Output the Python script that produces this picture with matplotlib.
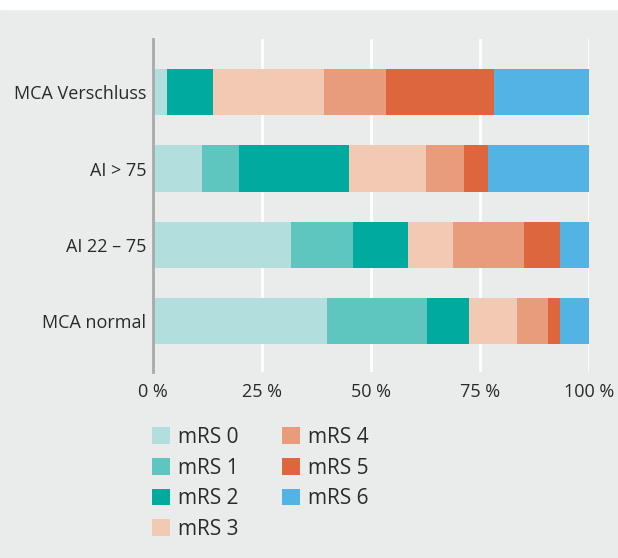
import numpy as np
import matplotlib.pyplot as plt
from matplotlib.patches import Rectangle

plt.rcParams["font.family"] = ["Open Sans", "DejaVu Sans"]

# data (percent per mRS grade)
groups = ["MCA normal", "AI 22 – 75", "AI > 75", "MCA Verschluss"]
mrs0 = [39.8, 31.6, 11.1, 3.1]
mrs1 = [23.0, 14.2, 8.5, 0.0]
mrs2 = [9.6, 12.6, 25.3, 10.6]
mrs3 = [11.1, 10.4, 17.7, 25.5]
mrs4 = [7.1, 16.3, 8.7, 14.2]
mrs5 = [2.7, 8.2, 5.5, 24.8]
mrs6 = [6.7, 6.7, 23.2, 21.8]
labels = ["mRS 0", "mRS 1", "mRS 2", "mRS 3", "mRS 4", "mRS 5", "mRS 6"]
colors = ["#b2dfdd", "#5ec5bf", "#00aa9f", "#f2c9b2", "#e89c7b", "#dd663d", "#54b3e5"]
xticks = [0, 25, 50, 75, 100]
xticklabels = ["0 %", "25 %", "50 %", "75 %", "100 %"]

bg = "#eaeceb"
fig = plt.figure(figsize=(6.18, 5.58), dpi=100, facecolor=bg)
fig.patches.append(Rectangle((0, 1 - 9 / 558), 1, 9 / 558, transform=fig.transFigure,
                             color="white", zorder=-1))
ax = fig.add_axes([153.3 / 618, 1 - 372 / 558, (589 - 153.3) / 618, (372 - 39) / 558])
ax.set_facecolor(bg)

y = np.arange(len(groups))
left = np.zeros(len(groups))
for vals, lab, col in zip([mrs0, mrs1, mrs2, mrs3, mrs4, mrs5, mrs6], labels, colors):
    ax.barh(y, vals, left=left, height=0.605, color=col, label=lab, zorder=3)
    left += np.array(vals)

ax.set_xlim(0, 100)
ax.set_ylim(-0.67, 3.70)
ax.set_xticks(xticks)
ax.set_xticklabels(xticklabels, fontsize=13, color="#2a2a2a")
ax.set_yticks(y)
ax.set_yticklabels(groups, fontsize=13, color="#2a2a2a")
ax.tick_params(length=0)
ax.tick_params(axis="x", pad=8)
ax.tick_params(axis="y", pad=5)
for x in xticks[1:]:
    ax.axvline(x, color="white", lw=2, zorder=1)
for s in ["top", "right", "bottom"]:
    ax.spines[s].set_visible(False)
ax.spines["left"].set_color("#a8a9ab")
ax.spines["left"].set_linewidth(2)
ax.spines["left"].set_zorder(4)

fig.legend(loc="upper left", bbox_to_anchor=(152 / 618, 1 - 427 / 558), ncol=2,
           frameon=False, fontsize=15, handlelength=0.87, handleheight=0.87,
           handletextpad=0.37, labelspacing=0.46, columnspacing=2.08,
           labelcolor="#2a2a2a", borderpad=0, borderaxespad=0)

fig.savefig("out.png", dpi=100, facecolor=bg)
